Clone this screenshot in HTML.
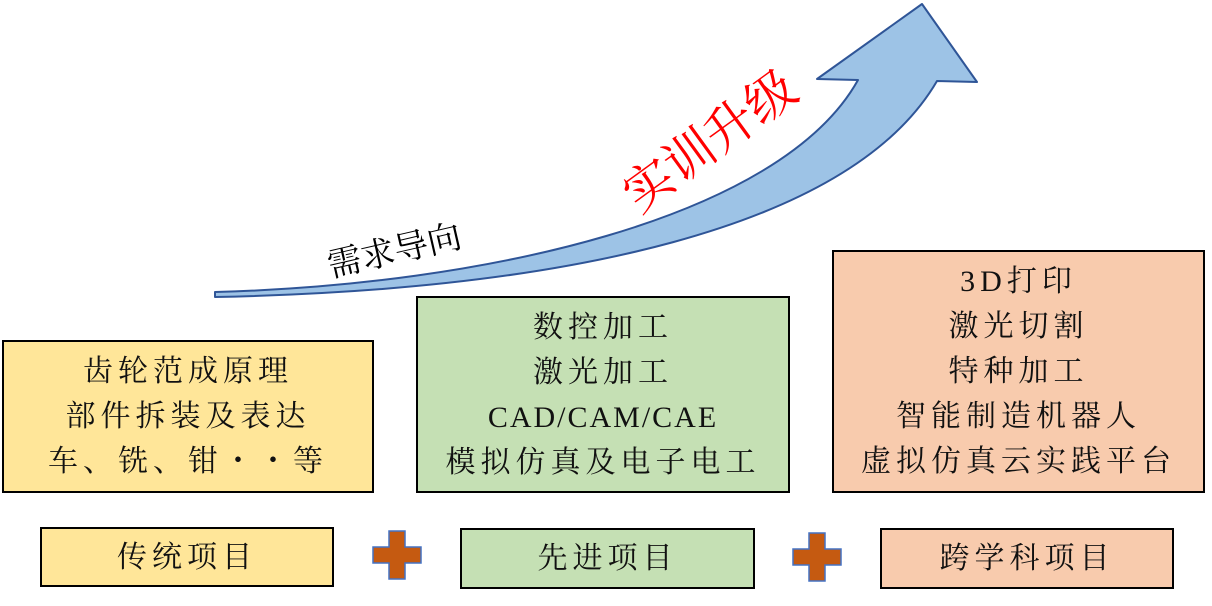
<!DOCTYPE html>
<html><head><meta charset="utf-8"><style>
body{margin:0;width:1212px;height:606px;background:#fff;overflow:hidden;position:relative;font-family:"Liberation Serif","Noto Serif CJK SC",serif;}
.b{position:absolute;border:2px solid #000;box-sizing:border-box;display:flex;flex-direction:column;align-items:center;justify-content:center;font-size:30px;line-height:45px;color:#111;text-align:center;letter-spacing:5px;}
.y{background:#ffe699}.g{background:#c5e0b4}.o{background:#f8cbad}
</style></head><body>
<svg width="1212" height="606" style="position:absolute;left:0;top:0">
<path d="M215,292 C480,285 780,220 858,80 L817,79 L922,4 L977,82 L937,81 C850,230 560,290 215,297 Z" fill="#9dc3e6" stroke="#2f5597" stroke-width="2" stroke-linejoin="round"/>
<text x="0" y="0" transform="translate(397,262) rotate(-13)" text-anchor="middle" font-size="34" fill="#000" font-family="Liberation Serif, Noto Serif CJK SC, serif">需求导向</text>
<text x="0" y="0" transform="translate(720,155) rotate(-36)" text-anchor="middle" font-size="50" fill="#ff0000" font-family="Liberation Serif, Noto Serif CJK SC, serif">实训升级</text>
<g fill="#c55a11" stroke="#4472c4" stroke-width="1.5">
<path d="M389,531 h16 v16 h16 v16 h-16 v16 h-16 v-16 h-16 v-16 h16 z"/>
<path d="M809,533 h16 v16 h16 v16 h-16 v16 h-16 v-16 h-16 v-16 h16 z"/>
</g>
</svg>
<div class="b y" style="left:2px;top:340px;width:372px;height:153px">齿轮范成原理<br>部件拆装及表达<br>车、铣、钳・・等</div>
<div class="b g" style="left:416px;top:296px;width:374px;height:197px">数控加工<br>激光加工<br><span style="letter-spacing:2px">CAD/CAM/CAE</span>模拟仿真及电子电工</div>
<div class="b o" style="left:832px;top:250px;width:373px;height:243px">3D打印<br>激光切割<br>特种加工<br>智能制造机器人<br>虚拟仿真云实践平台</div>
<div class="b y" style="left:40px;top:527px;width:294px;height:60px">传统项目</div>
<div class="b g" style="left:460px;top:528px;width:295px;height:61px">先进项目</div>
<div class="b o" style="left:880px;top:528px;width:294px;height:61px">跨学科项目</div>
</body></html>
